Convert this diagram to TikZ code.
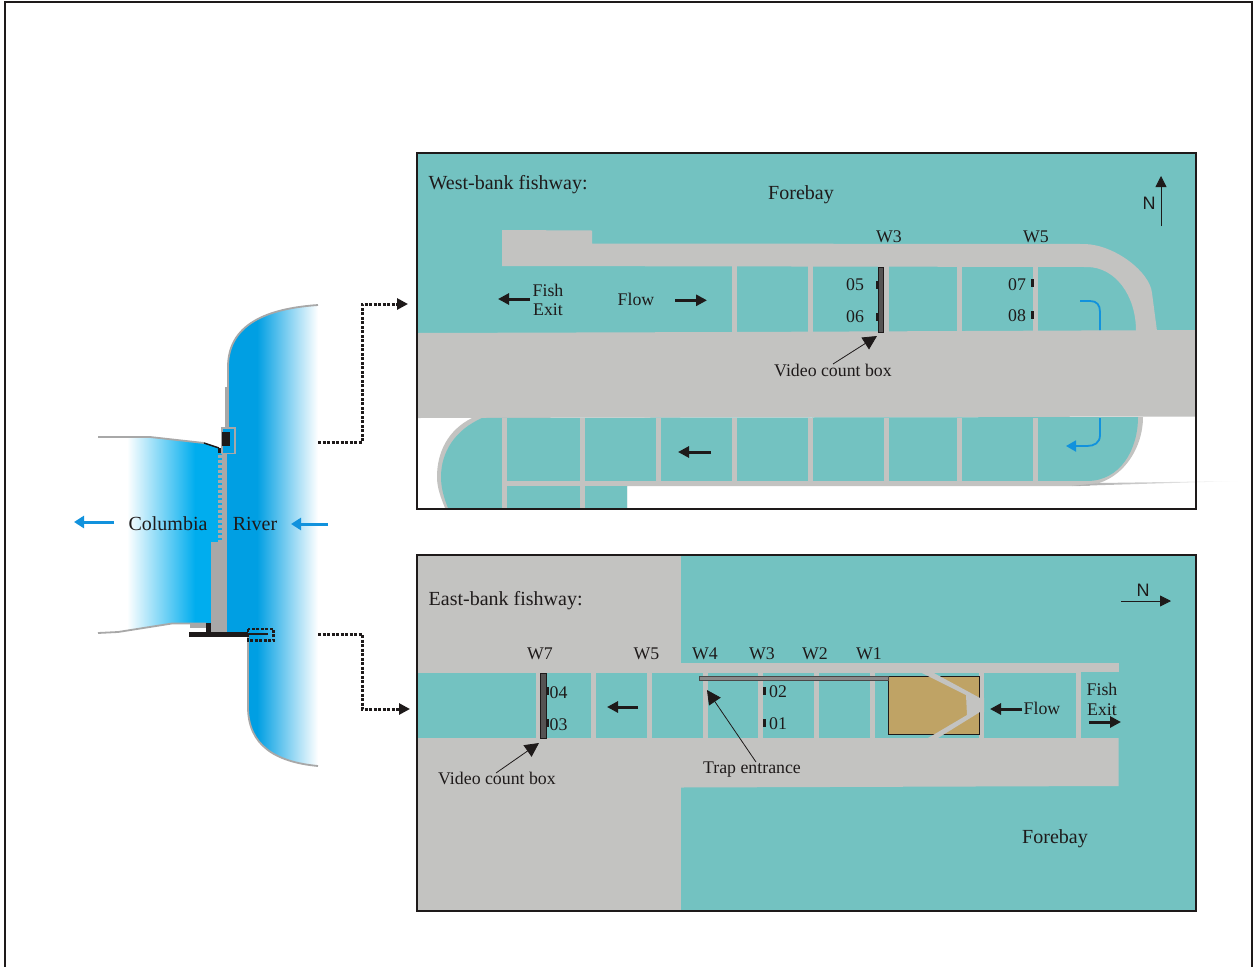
\documentclass[tikz,border=0pt]{standalone}
\usepackage{fontspec}
\setmainfont{Liberation Serif}
\newfontfamily\labsans{Liberation Sans}
\usetikzlibrary{arrows.meta}
\definecolor{teal1}{HTML}{73C2C1}
\definecolor{wallgrey}{HTML}{C3C3C1}
\definecolor{damgrey}{HTML}{A8A8A8}
\definecolor{ink}{HTML}{1E1A1A}
\definecolor{riverblue}{HTML}{009FE3}
\definecolor{riverblueb}{HTML}{00ADEE}
\definecolor{arrowblue}{HTML}{1192DD}
\definecolor{tan1}{HTML}{BFA365}
\definecolor{boxgrey}{HTML}{555353}
\definecolor{bargrey}{HTML}{8A8A8A}
\tikzset{
  panel/.style={fill=teal1,inner sep=0pt,minimum width=779pt},
  frameline/.style={draw=ink,line width=2pt},
  lab/.style={inner sep=0pt,text=ink,yshift=-0.4pt,font=\fontsize{17.8}{17.8}\selectfont},
  bigl/.style={inner sep=0pt,text=ink,yshift=-1pt,font=\fontsize{20}{20}\selectfont},
  northl/.style={inner sep=0pt,text=ink,font=\labsans\fontsize{18}{18}\selectfont},
  flowarrow/.style={draw=ink,line width=3pt,-{Triangle[length=11pt,width=11pt]}},
  callout/.style={draw=ink,line width=0.8pt,-{Triangle[length=14pt,width=14pt]}},
  northarrow/.style={draw=ink,line width=0.8pt,-{Triangle[length=11pt,width=11pt]}},
  bluearrow/.style={draw=arrowblue,line width=3pt,-{Triangle[length=10pt,width=12pt]}},
  bendblue/.style={draw=arrowblue,line width=1.8pt},
  dotline/.style={draw=ink,line width=3pt,dash pattern=on 3pt off 1.5pt,-{Triangle[length=11pt,width=11pt]}},
  shoreline/.style={draw=damgrey,line width=1.8pt},
  boxdark/.style={fill=boxgrey,draw=ink,line width=0.7pt},
}
\begin{document}
\begin{tikzpicture}[x=1pt,y=-1pt]
\useasboundingbox (0,0) rectangle (1254,967);
\fill[white] (0,0) rectangle (1254,967);
\draw[ink,line width=1.6pt] (5,967) -- (5,2) -- (1252,2) -- (1252,967);

% ---------- river map ----------
\begin{scope}
  \clip (127,436) -- (150,437) -- (203,443) -- (219,448) -- (226,448) -- (226,623) -- (172,623) -- (118,632) -- (127,632) -- cycle;
  \shade[left color=white,right color=riverblueb] (127,430) rectangle (195,640);
  \fill[riverblueb] (194.5,430) rectangle (226,640);
\end{scope}
\begin{scope}
  \clip (318,305) .. controls (275,308) and (228,320) .. (228,367) -- (228,427) -- (225,427) -- (225,633) -- (248,633) -- (248,707) .. controls (248,745) and (275,762) .. (318,766) -- cycle;
  \fill[riverblue] (220,300) rectangle (257.5,770);
  \shade[left color=riverblue,right color=white] (257,300) rectangle (318,770);
\end{scope}
\draw[shoreline] (318,305) .. controls (275,308) and (228,320) .. (228,367) -- (228,387);
\draw[shoreline] (248,637) -- (248,707) .. controls (248,745) and (275,762) .. (318,766);
\draw[shoreline] (98,437) -- (150,437) -- (204,443);
\draw[shoreline] (98,633) -- (118,632) -- (172,623.5) -- (206,623.5);
% dam
\fill[damgrey] (225,387) rectangle (229,427);
\fill[damgrey] (222,453) rectangle (227,542);
\foreach \ty in {455,460,...,540} {\fill[damgrey] (218,\ty) rectangle (222,\ty+2.7);}
\fill[damgrey] (211,542) rectangle (227,633);
\draw[damgrey,line width=1.5pt,fill=riverblue] (222,427.8) rectangle (235.2,453.5);
\fill[ink] (222,432) rectangle (230,446);
\draw[ink,line width=1.5pt] (204,443) -- (219,448);
\fill[ink] (218,448) rectangle (221,453);
\fill[damgrey] (190,623) rectangle (206,628);
\fill[ink] (206,623) rectangle (211,632);
\fill[ink] (189,632) rectangle (248,637);
\fill[ink] (248,632.5) rectangle (268,635);
\draw[ink,line width=2.5pt,dash pattern=on 3pt off 1.5pt] (248,629) rectangle (273.5,640.5);
\node[bigl] (columbia) at (168,523) {Columbia};
\node[bigl] (river) at (255,523) {River};
\coordinate (blueLa) at (114,522); \coordinate (blueLb) at (74,522);
\coordinate (blueRa) at (328,524); \coordinate (blueRb) at (291,524);
\draw[bluearrow] (blueLa) -- (blueLb);
\draw[bluearrow] (blueRa) -- (blueRb);

% ---------- west panel ----------
\node[panel,minimum height=356pt] (west) at (806.5,331) {};
\fill[white] (417,416) rectangle (1196,509);
\fill[wallgrey] (502,230) -- (592,230.5) -- (592,243.5) -- (1085,244) .. controls (1115,245) and (1150,272) .. (1152,293) -- (1157,331) -- (1136,331) .. controls (1136,295) and (1115,267) .. (1087,267) -- (502,266) -- cycle;
\fill[wallgrey] (417,333) -- (732,332) -- (1196,330) -- (1196,416.5) -- (417,418) -- cycle;
% lower outer wall
\fill[wallgrey] (472,418) .. controls (448,430) and (437,452) .. (437,477) .. controls (437,488) and (441,498) .. (445,508) -- (627,508) -- (627,486) -- (1080,486) .. controls (1120,486) and (1143,450) .. (1143,417) -- cycle;
\fill[teal1] (482,418) .. controls (455,430) and (441,452) .. (441,477) .. controls (441,488) and (444,498) .. (448,508) -- (627,508) -- (627,481) -- (1087,481) .. controls (1120,481) and (1138,450) .. (1138,417) -- cycle;
\fill[wallgrey] (502,481) rectangle (1090,486);
\foreach \xa in {502,580} {\fill[wallgrey] (\xa,418) rectangle (\xa+5,508);}
\foreach \xa in {656,732,808,884,957,1033} {\fill[wallgrey] (\xa,418) rectangle (\xa+5,486);}
\foreach \xa in {732,808,957,1033} {\fill[wallgrey] (\xa,266) rectangle (\xa+5,332);}
\fill[wallgrey] (878,266) rectangle (889,332);
\node[boxdark,inner sep=0pt,minimum width=5.6pt,minimum height=65pt] (vcw) at (880.8,299.5) {};
\foreach \ya/\yb in {281/289,313/321} {\fill[ink] (876,\ya) rectangle (878,\yb);}
\foreach \ya/\yb in {279/287,311/319} {\fill[ink] (1031,\ya) rectangle (1033.5,\yb);}
% blue bend
\draw[bendblue] (1080,301) -- (1090,301) .. controls (1097,301) and (1100,305) .. (1100,312) -- (1100,330);
\draw[bendblue,-{Triangle[length=10pt,width=11pt]}] (1100,418) -- (1100,435) .. controls (1100,443) and (1094,446) .. (1087,446) -- (1066,446);
% streak
\shade[left color=damgrey,middle color=damgrey!70,right color=white] (1072,486) -- (1238,481) -- (1100,483) -- cycle;
\draw[frameline] (west.north west) rectangle (west.south east);
\node[bigl,anchor=base west] (wtitle) at (428.5,188) {West-bank fishway:};
\node[bigl] (wfore) at (801,193.5) {Forebay};
\node[lab] (fishw) at (548,290.5) {Fish};
\node[lab] (exitw) at (548,309) {Exit};
\node[lab] (floww) at (636,299) {Flow};
\node[lab] (w3w) at (889,236) {W3};
\node[lab] (w5w) at (1036,236) {W5};
\node[lab] (s05) at (855,284) {05};
\node[lab] (s06) at (855,316) {06};
\node[lab] (s07) at (1017,284) {07};
\node[lab] (s08) at (1017,315) {08};
\node[lab] (vclw) at (833,370) {Video count box};
\node[northl] (nw) at (1149,203) {N};
\coordinate (aw1a) at (530,299); \coordinate (aw1b) at (498,299);
\coordinate (aw2a) at (675,300.3); \coordinate (aw2b) at (707,300.3);
\coordinate (aw3a) at (711,452); \coordinate (aw3b) at (678,452);
\coordinate (nwa) at (1161,226); \coordinate (nwb) at (1161,176);
\coordinate (vcwa) at (833,364); \coordinate (vcwb) at (877,336);
\draw[flowarrow] (aw1a) -- (aw1b);
\draw[flowarrow] (aw2a) -- (aw2b);
\draw[flowarrow] (aw3a) -- (aw3b);
\draw[northarrow] (nwa) -- (nwb);
\draw[callout] (vcwa) -- (vcwb);

% ---------- east panel ----------
\node[panel,minimum height=356pt] (east) at (806.5,733) {};
\fill[wallgrey] (417,555) rectangle (681,911);
\fill[wallgrey] (681,663) rectangle (1118.7,672);
\fill[wallgrey] (681,738) -- (1118.7,738) -- (1118.7,786) -- (681,787.5) -- cycle;
\fill[wallgrey] (681,672) rectangle (1081,738);
\fill[wallgrey] (417,672) rectangle (540,738);
\foreach \xa/\xb in {417/536,547/591,596/647,652/703,708/758,763/814,819/870,875/979,984/1076,1081/1119}
  {\fill[teal1] (\xa,672.7) rectangle (\xb,737.8);}
\fill[wallgrey] (979,672) rectangle (984,738);
\node[fill=tan1,draw=ink,line width=0.8pt,inner sep=0pt,minimum width=91pt,minimum height=58pt] (trap) at (933.5,705) {};
\fill[wallgrey] (920,672) -- (932,672) -- (980,698) -- (984,698) -- (984,712) -- (980,712) -- (938,738) -- (928,738) -- (967,715) -- (966,695) -- cycle;
\node[fill=bargrey,draw=ink!80,line width=0.6pt,inner sep=0pt,minimum width=189pt,minimum height=4pt] (gate) at (793.5,678.3) {};
\node[boxdark,inner sep=0pt,minimum width=6.4pt,minimum height=65pt] (vce) at (543.5,705.5) {};
\foreach \ya/\yb in {687/695,719/727} {\fill[ink] (546.5,\ya) rectangle (549,\yb); \fill[ink] (763,\ya) rectangle (765.5,\yb);}
\draw[frameline] (east.north west) rectangle (east.south east);
\node[bigl,anchor=base west] (etitle) at (428.5,604) {East-bank fishway:};
\node[bigl] (efore) at (1055,837.5) {Forebay};
\node[lab] (w7e) at (540,653) {W7};
\node[lab] (w5e) at (646.5,653) {W5};
\node[lab] (w4e) at (705,653) {W4};
\node[lab] (w3e) at (762,653) {W3};
\node[lab] (w2e) at (815,653) {W2};
\node[lab] (w1e) at (869,653) {W1};
\node[lab] (s04) at (558.5,692) {04};
\node[lab] (s03) at (558.5,724) {03};
\node[lab] (s02) at (778,691.5) {02};
\node[lab] (s01) at (778,723) {01};
\node[lab] (flowe) at (1042,708) {Flow};
\node[lab] (fishe) at (1102,689) {Fish};
\node[lab] (exite) at (1102,709) {Exit};
\node[lab] (vcle) at (497,778) {Video count box};
\node[lab,yshift=-1pt] (trapl) at (752,768) {Trap entrance};
\node[northl] (ne) at (1143,590) {N};
\coordinate (ae1a) at (638,707); \coordinate (ae1b) at (607,707);
\coordinate (ae2a) at (1022,709); \coordinate (ae2b) at (990,709);
\coordinate (ae3a) at (1089,722); \coordinate (ae3b) at (1121,722);
\coordinate (nea) at (1121,601); \coordinate (neb) at (1171,601);
\coordinate (vcea) at (496,773); \coordinate (vceb) at (539,743);
\coordinate (tra) at (756,762); \coordinate (trb) at (707,690);
\draw[flowarrow] (ae1a) -- (ae1b);
\draw[flowarrow] (ae2a) -- (ae2b);
\draw[flowarrow] (ae3a) -- (ae3b);
\draw[northarrow] (nea) -- (neb);
\draw[callout] (vcea) -- (vceb);
\draw[callout] (tra) -- (trb);

% ---------- dotted connectors ----------
\coordinate (d1) at (318,442); \coordinate (d1c) at (362,304); \coordinate (d1t) at (408,304);
\coordinate (d2) at (318,634); \coordinate (d2c) at (362,709); \coordinate (d2t) at (410,709);
\draw[dotline] (d1) -| (d1c) -- (d1t);
\draw[dotline] (d2) -| (d2c) -- (d2t);
\end{tikzpicture}
\end{document}
